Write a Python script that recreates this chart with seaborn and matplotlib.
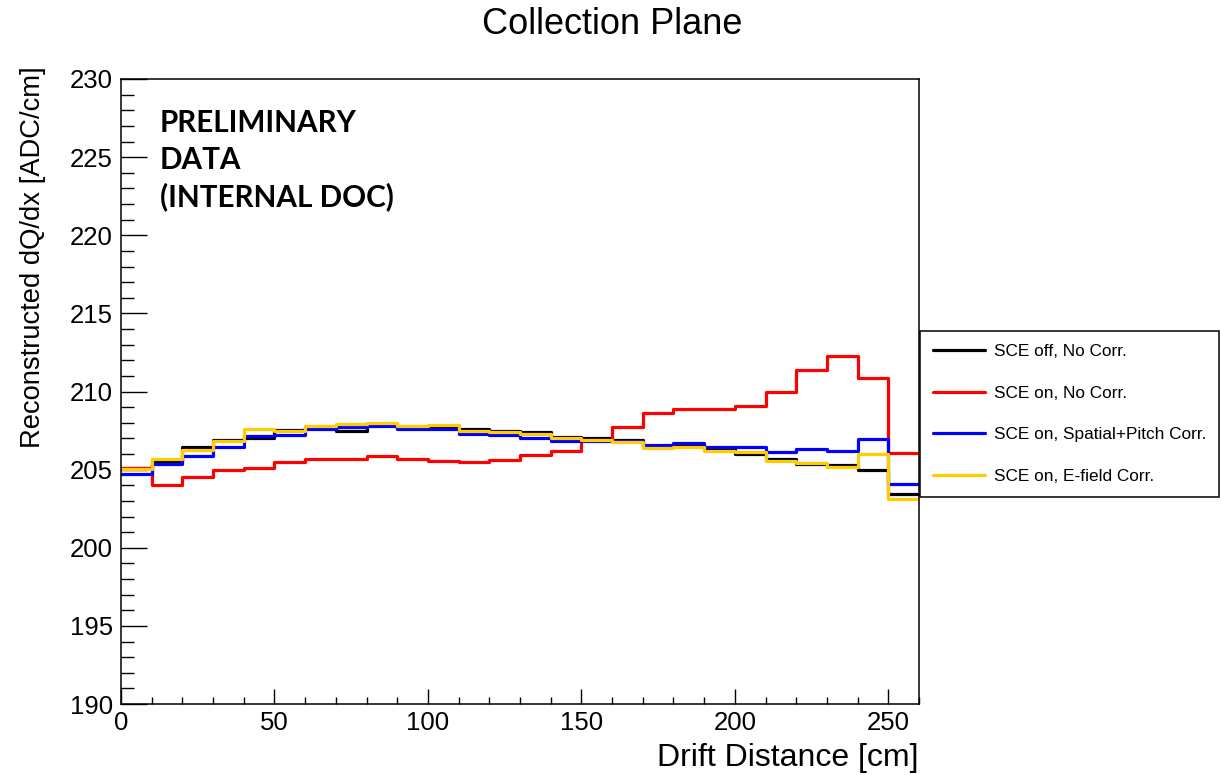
import numpy as np
import pandas as pd
import matplotlib
matplotlib.use("Agg")
import matplotlib.pyplot as plt
from matplotlib.ticker import MultipleLocator
import seaborn as sns

# ---- data (26 bins of 10 cm, 0..260 cm) ----
bin_edges = np.arange(0, 270, 10)
sce_off_nocorr = [205.1, 205.5, 206.45, 206.9, 207.05, 207.55, 207.7, 207.5, 207.9, 207.75,
                  207.75, 207.6, 207.5, 207.4, 207.1, 207.0, 206.9, 206.5, 206.5, 206.35,
                  206.0, 205.7, 205.35, 205.3, 205.0, 203.45]
sce_on_nocorr = [205.1, 204.0, 204.5, 205.0, 205.1, 205.5, 205.65, 205.65, 205.85, 205.65,
                 205.55, 205.5, 205.6, 205.95, 206.2, 206.9, 207.75, 208.65, 208.9, 208.9,
                 209.1, 210.0, 211.4, 212.3, 210.85, 206.05]
sce_on_spatial = [204.7, 205.35, 205.9, 206.45, 207.15, 207.2, 207.6, 207.7, 207.8, 207.6,
                  207.6, 207.3, 207.2, 207.0, 206.85, 206.8, 206.8, 206.6, 206.7, 206.45,
                  206.45, 206.1, 206.3, 206.2, 206.95, 204.1]
sce_on_efield = [205.05, 205.7, 206.25, 206.8, 207.6, 207.45, 207.8, 207.9, 208.0, 207.8,
                 207.85, 207.5, 207.4, 207.25, 207.0, 206.9, 206.75, 206.4, 206.45, 206.2,
                 206.1, 205.55, 205.45, 205.2, 206.0, 203.1]
series_labels = ["SCE off, No Corr.", "SCE on, No Corr.",
                 "SCE on, Spatial+Pitch Corr.", "SCE on, E-field Corr."]
series_colors = ["#000000", "#ff0000", "#0000ff", "#ffcc00"]
series_values = [sce_off_nocorr, sce_on_nocorr, sce_on_spatial, sce_on_efield]

title = "Collection Plane"
xlabel = "Drift Distance [cm]"
ylabel = "Reconstructed dQ/dx [ADC/cm]"
stamp = ["PRELIMINARY", "DATA", "(INTERNAL DOC)"]

# ---- style ----
sns.set_style("white")
plt.rcParams["font.family"] = ["Liberation Sans", "DejaVu Sans"]
for k in ["text.color", "axes.labelcolor", "xtick.color", "ytick.color", "axes.edgecolor"]:
    plt.rcParams[k] = "black"

W, H = 1221, 775
fig = plt.figure(figsize=(W / 100, H / 100), dpi=100)
ax_l, ax_r, ax_t, ax_b = 121, 919, 79, 704
ax = fig.add_axes([ax_l / W, 1 - ax_b / H, (ax_r - ax_l) / W, (ax_b - ax_t) / H])

rows = []
for lab, vals in zip(series_labels, series_values):
    v = list(vals) + [vals[-1]]
    for x, y in zip(bin_edges, v):
        rows.append({"x": x, "y": y, "series": lab})
df = pd.DataFrame(rows)

for lab, col in zip(series_labels, series_colors):
    sub = df[df["series"] == lab]
    sns.lineplot(data=sub, x="x", y="y", ax=ax, color=col, lw=2.3,
                 drawstyle="steps-post", estimator=None, sort=False, label=lab)
lines = ax.get_lines()
ax.get_legend().remove()

ax.set_xlim(0, 260)
ax.set_ylim(190, 230)
ax.set_xlabel("")
ax.set_ylabel("")
ax.xaxis.set_major_locator(MultipleLocator(50))
ax.xaxis.set_minor_locator(MultipleLocator(10))
ax.yaxis.set_major_locator(MultipleLocator(5))
ax.yaxis.set_minor_locator(MultipleLocator(1))
ax.tick_params(axis="y", which="major", direction="in", length=18.7, width=1.0,
               labelsize=18.5, pad=5.8, left=True, right=False, colors="black")
ax.tick_params(axis="y", which="minor", direction="in", length=9.4, width=1.0,
               left=True, right=False, colors="black")
ax.tick_params(axis="x", which="major", direction="in", length=10.8, width=1.0,
               labelsize=18.5, pad=5.0, bottom=True, top=False, colors="black")
ax.tick_params(axis="x", which="minor", direction="in", length=5.0, width=1.0,
               bottom=True, top=False, colors="black")
for s in ax.spines.values():
    s.set_visible(True)
    s.set_color("black")
    s.set_linewidth(1.1)

# titles / labels
fig.text(612 / W, 1 - 25 / H, title, ha="center", va="center", fontsize=26, color="black")
fig.text(ax_r / W, 1 - 758 / H, xlabel, ha="right", va="center", fontsize=23, color="black")
fig.text(33 / W, 1 - 66 / H, ylabel, rotation=90, ha="center", va="top", fontsize=19.7,
         color="black")

for txt, base in zip(stamp, [132, 169, 206]):
    fig.text(160 / W, 1 - base / H, txt, ha="left", va="baseline", fontsize=21.3,
             family=["Lato", "DejaVu Sans"], fontweight="bold", color="black")

leg = fig.legend(handles=lines, labels=series_labels, loc="upper left",
                 bbox_to_anchor=(920 / W, 1 - 331 / H, 299 / W, 0.0), mode="expand",
                 borderaxespad=0, fontsize=12.4, handlelength=3.0, handletextpad=0.5,
                 borderpad=0.78, labelspacing=1.53, fancybox=False, framealpha=1,
                 edgecolor="black")
leg.get_frame().set_linewidth(1.1)
for t in leg.get_texts():
    t.set_color("black")
for h in leg.get_lines():
    h.set_linewidth(2.3)

fig.savefig("out.png", dpi=100, facecolor="white")
